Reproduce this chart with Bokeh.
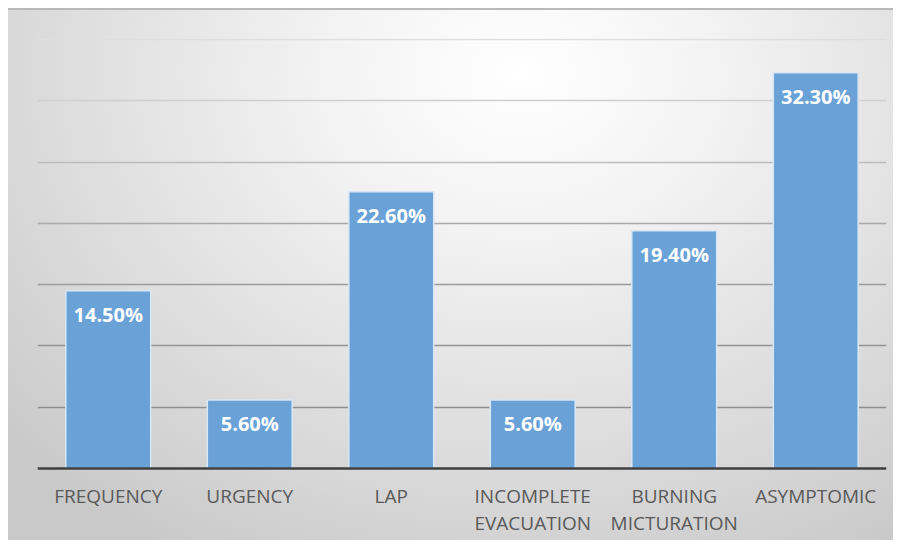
from bokeh.plotting import figure
from bokeh.models import ColumnDataSource, FactorRange, Range1d, Span
from bokeh.embed import file_html
from bokeh.resources import INLINE
from bokeh.core.properties import value

# Share of patients by presenting symptom (%)
categories = ["FREQUENCY", "URGENCY", "LAP", "INCOMPLETE EVACUATION",
              "BURNING MICTURATION", "ASYMPTOMIC"]
tick_labels = ["FREQUENCY", "URGENCY", "LAP", "INCOMPLETE\nEVACUATION",
               "BURNING\nMICTURATION", "ASYMPTOMIC"]
percentages = [14.5, 5.6, 22.6, 5.6, 19.4, 32.3]
grid_values = [5, 10, 15, 20, 25, 30, 35]
# gridlines fade out towards the top
grid_colors = ["#8e8e8e", "#939393", "#9c9c9c", "#a9a9a9", "#bcbcbc", "#cfcfcf", "#dedede"]

source = ColumnDataSource(dict(
    cat=categories,
    pct=percentages,
    label=[f"{v:.2f}%" for v in percentages],
    tick=tick_labels,
    base=[0] * len(categories),
))

# the frame reaches down to the bottom edge so that the category
# names can be drawn as text glyphs below the zero line
p = figure(
    x_range=FactorRange(*categories),
    y_range=Range1d(-6.04, 35.1),
    width=885, height=532,
    output_backend="svg", toolbar_location=None,
    min_border_left=29, min_border_right=7,
    min_border_top=28, min_border_bottom=0,
)

# transparent canvas so the CSS gradient shows through
p.background_fill_alpha = 0
p.border_fill_alpha = 0
p.outline_line_color = None
p.styles = {
    "margin-left": "8px",
    "margin-top": "8px",
    "background": "radial-gradient(ellipse 78% 105% at 58% 12%, #ffffff 0%, #f3f3f3 28%, #dedede 65%, #c9c9c9 100%)",
    "border-top": "2px solid #b9b9b9",
}

p.xaxis.visible = False
p.yaxis.visible = False
p.xgrid.grid_line_color = None
p.ygrid.grid_line_color = None

p.hspan(y=grid_values, line_color=grid_colors, line_width=1.5)

p.vbar(x="cat", top="pct", width=0.6, source=source,
       fill_color="#6aa2d8", line_color="#d9e7f5", line_width=1.5)

# category axis line
p.add_layout(Span(location=0, dimension="width",
                  line_color="#3f3f3f", line_width=2.5))

# value labels inside the top of each bar
p.text(x="cat", y="pct", text="label", source=source,
       text_align="center", text_baseline="middle", y_offset=24,
       text_color="white", text_font=value("Open Sans"),
       text_font_style="bold", text_font_size="20px")

# category names below the axis (two lines where needed)
p.text(x="cat", y="base", text="tick", source=source,
       text_align="center", text_baseline="top", y_offset=14,
       text_color="#595959", text_font=value("Open Sans"),
       text_font_size="19px", text_line_height=1.05)

open("out.html", "w").write(file_html(p, INLINE))
